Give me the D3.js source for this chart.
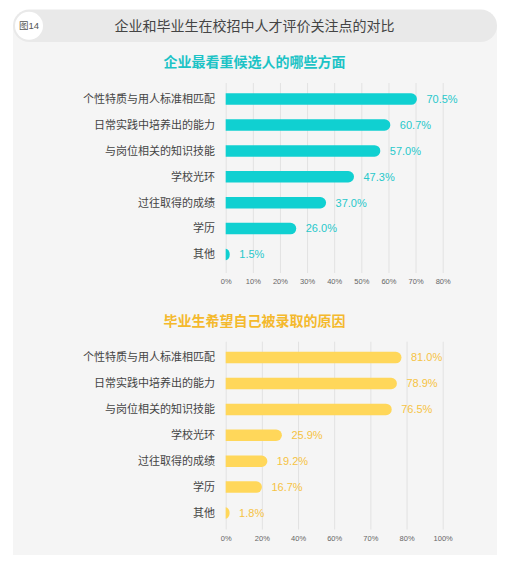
<!DOCTYPE html>
<html>
<head>
<meta charset="utf-8">
<script src="https://cdn.jsdelivr.net/npm/d3@7"></script>
<style>
    body { margin: 0; background: #fff; }
    text { font-family: "Liberation Sans", "Noto Sans CJK SC", sans-serif; }
</style>
</head>
<body>
<div id="chartArea"></div>
<script>
    // Data

    const categories = ["个性特质与用人标准相匹配", "日常实践中培养出的能力", "与岗位相关的知识技能", "学校光环", "过往取得的成绩", "学历", "其他"];
    const employerValues = [70.5, 60.7, 57.0, 47.3, 37.0, 26.0, 1.5];
    const graduateValues = [81.0, 78.9, 76.5, 25.9, 19.2, 16.7, 1.8];
    const employerTickLabels = ["0%", "10%", "20%", "30%", "40%", "50%", "60%", "70%", "80%"];
    const graduateTickLabels = ["0%", "20%", "40%", "60%", "70%", "80%", "100%"];

    // Dimensions

    const width = 516,
        height = 572,
        panel = { left: 13, right: 497, bottom: 555 },
        plotX = [225.7, 442.7],
        barHeight = 11.5,
        step = 25.9;

    const svg = d3.select("#chartArea")
        .append("svg")
        .attr("width", width)
        .attr("height", height);

    // Panel and header

    svg.append("rect")
        .attr("x", panel.left)
        .attr("y", 26)
        .attr("width", panel.right - panel.left)
        .attr("height", panel.bottom - 26)
        .attr("fill", "#f5f5f5");

    svg.append("rect")
        .attr("x", panel.left)
        .attr("y", 9.5)
        .attr("width", panel.right - panel.left)
        .attr("height", 32.5)
        .attr("rx", 16.25)
        .attr("fill", "#e9e9e9");

    svg.append("circle")
        .attr("cx", 29)
        .attr("cy", 25.8)
        .attr("r", 14)
        .attr("fill", "#fff");

    svg.append("text")
        .attr("x", 29)
        .attr("y", 25.8)
        .attr("dy", "0.35em")
        .attr("text-anchor", "middle")
        .attr("font-size", 9.5)
        .attr("fill", "#555")
        .text("图14");

    svg.append("text")
        .attr("x", 254.5)
        .attr("y", 26)
        .attr("dy", "0.35em")
        .attr("text-anchor", "middle")
        .attr("font-size", 14)
        .attr("fill", "#444")
        .text("企业和毕业生在校招中人才评价关注点的对比");

    // Bar with a rounded right end
    const barPath = (x0, x1, yc) => {
        const w = Math.max(x1 - x0, 0.5);
        const r = Math.min(barHeight / 2, w);
        const y0 = yc - barHeight / 2;
        return `M${x0},${y0}H${x0 + w - r}A${r},${barHeight / 2} 0 0 1 ${x0 + w - r},${y0 + barHeight}H${x0}Z`;
    };

    const drawChart = opts => {
        const g = svg.append("g");

        const x = d3.scaleLinear().domain(opts.domain).range(plotX);
        const y = d3.scaleBand()
            .domain(categories)
            .range([opts.firstCenter - step / 2, opts.firstCenter - step / 2 + step * categories.length]);

        g.append("text")
            .attr("x", 254.5)
            .attr("y", opts.titleY)
            .attr("dy", "0.35em")
            .attr("text-anchor", "middle")
            .attr("font-size", 14)
            .attr("font-weight", "bold")
            .attr("fill", opts.titleColor)
            .text(opts.title);

        // gridlines + tick labels
        const axis = d3.axisBottom(x)
            .tickValues(opts.tickValues)
            .tickFormat((d, i) => opts.tickLabels[i])
            .tickSize(-(opts.gridBottom - opts.gridTop))
            .tickPadding(opts.tickPadding);

        g.append("g")
            .attr("transform", `translate(0,${opts.gridBottom})`)
            .call(axis)
            .call(a => a.select(".domain").remove())
            .call(a => a.selectAll(".tick line").attr("stroke", "#e2e2e2"))
            .call(a => a.selectAll(".tick text")
                .attr("font-size", 7.5)
                .attr("font-family", "Liberation Sans, sans-serif")
                .attr("fill", "#666"));

        g.append("g")
            .selectAll("path")
            .data(opts.values)
            .join("path")
            .attr("d", (d, i) => barPath(x(0), x(d), y(categories[i]) + y.bandwidth() / 2))
            .attr("fill", opts.barColor);

        g.append("g")
            .selectAll("text")
            .data(categories)
            .join("text")
            .attr("x", 215)
            .attr("y", d => y(d) + y.bandwidth() / 2)
            .attr("dy", "0.35em")
            .attr("text-anchor", "end")
            .attr("font-size", 11)
            .attr("fill", "#444")
            .text(d => d);

        g.append("g")
            .selectAll("text")
            .data(opts.values)
            .join("text")
            .attr("x", d => x(d) + 9.5)
            .attr("y", (d, i) => y(categories[i]) + y.bandwidth() / 2)
            .attr("dy", "0.35em")
            .attr("font-size", 11)
            .attr("fill", opts.labelColor)
            .text(d => d.toFixed(1) + "%");
    };

    drawChart({
        title: "企业最看重候选人的哪些方面",
        titleY: 61.7,
        titleColor: "#1cc3c6",
        values: employerValues,
        domain: [0, 80],
        tickValues: d3.range(0, 81, 10),
        tickLabels: employerTickLabels,
        firstCenter: 99.1,
        gridTop: 83,
        gridBottom: 273,
        tickPadding: 6,
        barColor: "#10d0d1",
        labelColor: "#27c8cb"
    });

    drawChart({
        title: "毕业生希望自己被录取的原因",
        titleY: 320.7,
        titleColor: "#f4b92c",
        values: graduateValues,
        domain: [0, 100],
        tickValues: d3.range(7).map(i => i * 100 / 6),
        tickLabels: graduateTickLabels,
        firstCenter: 357.6,
        gridTop: 341.7,
        gridBottom: 529.5,
        tickPadding: 6.5,
        barColor: "#ffd75a",
        labelColor: "#f5c343"
    });
</script>
</body>
</html>
